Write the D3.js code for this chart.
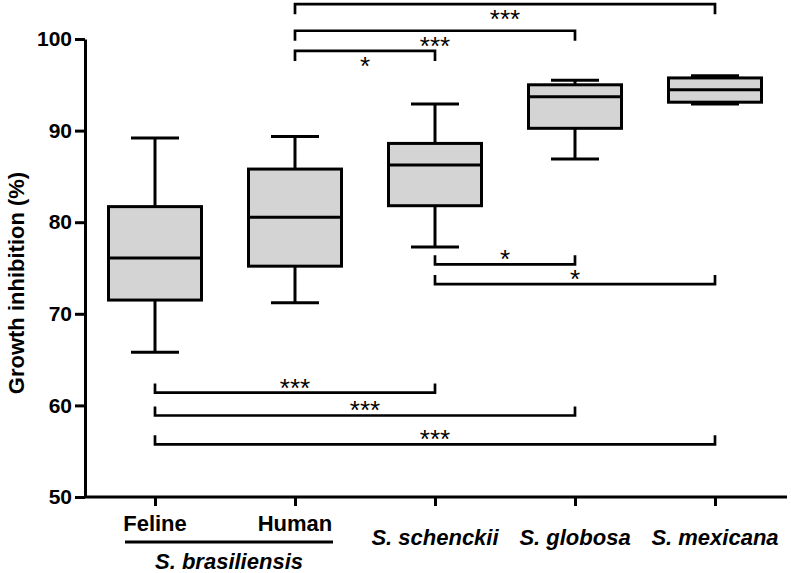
<!DOCTYPE html>
<html>
<head>
<meta charset="utf-8">
<script src="https://cdn.jsdelivr.net/npm/d3@7"></script>
<style>
  body { margin: 0; background: #fff; }
  svg { font-family: "Liberation Sans", Arial, sans-serif; }
  .axis text { font-size: 21px; font-weight: bold; fill: #000; }
  .axis path, .axis line { stroke: #000; stroke-width: 3px; }
</style>
</head>
<body>
<svg width="791" height="573"></svg>
<script>
// DATA
const groups = ["Feline", "Human", "S. schenckii", "S. globosa", "S. mexicana"];
const whiskerLow  = [65.8, 71.2, 77.3, 86.9, 92.9];
const q1          = [71.5, 75.2, 81.8, 90.25, 93.1];
const medians     = [76.1, 80.55, 86.25, 93.7, 94.45];
const q3          = [81.7, 85.8, 88.6, 95.0, 95.75];
const whiskerHigh = [89.2, 89.35, 92.9, 95.5, 96.0];
const yTicks = [50, 60, 70, 80, 90, 100];

// significance comparisons: [from, to, stars, level (y value), side]
const comparisons = [
	["Human", "S. mexicana", "***", 103.8, "top"],
	["Human", "S. globosa", "***", 100.9, "top"],
	["Human", "S. schenckii", "*", 98.7, "top"],
	["S. schenckii", "S. globosa", "*", 75.4, "bottom"],
	["S. schenckii", "S. mexicana", "*", 73.25, "bottom"],
	["Feline", "S. schenckii", "***", 61.4, "bottom"],
	["Feline", "S. globosa", "***", 58.9, "bottom"],
	["Feline", "S. mexicana", "***", 55.75, "bottom"]
];

var svg = d3.select('svg');

var x = d3.scalePoint().domain(groups).range([85, 785]).padding(0.5);
var y = d3.scaleLinear().domain([50, 100]).range([497, 39]);

var boxW = 93, capW = 48;

var boxes = groups.map((g, i) => ({
	name: g,
	lo: whiskerLow[i], q1: q1[i], med: medians[i], q3: q3[i], hi: whiskerHigh[i]
}));

// BOXES
var box = svg.append('g').selectAll('g').data(boxes).enter().append('g')
	.attr('transform', d => `translate(${x(d.name)},0)`);

box.append('line')
	.attr('y1', d => y(d.lo)).attr('y2', d => y(d.hi))
	.attr('stroke', '#000').attr('stroke-width', 3);

box.selectAll('.cap').data(d => [d.lo, d.hi]).enter().append('line')
	.attr('x1', -capW / 2).attr('x2', capW / 2)
	.attr('y1', v => y(v)).attr('y2', v => y(v))
	.attr('stroke', '#000').attr('stroke-width', 3);

box.append('rect')
	.attr('x', -boxW / 2).attr('width', boxW)
	.attr('y', d => y(d.q3)).attr('height', d => y(d.q1) - y(d.q3))
	.attr('fill', '#d4d4d4').attr('stroke', '#000').attr('stroke-width', 3);

box.append('line')
	.attr('x1', -boxW / 2).attr('x2', boxW / 2)
	.attr('y1', d => y(d.med)).attr('y2', d => y(d.med))
	.attr('stroke', '#000').attr('stroke-width', 3);

// AXES
svg.append('g').attr('class', 'axis')
	.attr('transform', 'translate(85,0)')
	.call(d3.axisLeft(y).tickValues(yTicks).tickSize(10).tickSizeOuter(0).tickPadding(3));

var xAxis = svg.append('g').attr('class', 'axis')
	.attr('transform', `translate(0,${y(50)})`)
	.call(d3.axisBottom(x).tickSize(9).tickSizeOuter(0).tickFormat(''));
xAxis.select('.domain').attr('d', 'M84,0H787');

// x labels
var labels = svg.append('g').attr('font-size', 22).attr('font-weight', 'bold').attr('text-anchor', 'middle');
groups.forEach((g, i) => {
	let italic = i >= 2;
	labels.append('text')
		.attr('x', x(g))
		.attr('y', italic ? 545 : 531)
		.attr('font-style', italic ? 'italic' : 'normal')
		.text(g);
});
svg.append('line')
	.attr('x1', 125).attr('x2', 333).attr('y1', 542).attr('y2', 542)
	.attr('stroke', '#000').attr('stroke-width', 3);
labels.append('text')
	.attr('x', (x('Feline') + x('Human')) / 2 + 4)
	.attr('y', 569)
	.attr('font-style', 'italic')
	.text('S. brasiliensis');

// y label
svg.append('text')
	.attr('transform', 'translate(24,283) rotate(-90)')
	.attr('text-anchor', 'middle')
	.attr('font-size', 22).attr('font-weight', 'bold')
	.text('Growth inhibition (%)');

// SIGNIFICANCE BRACKETS
var br = svg.append('g').selectAll('g').data(comparisons).enter().append('g');

br.append('path')
	.attr('d', d => {
		let x1 = x(d[0]), x2 = x(d[1]), ly = y(d[3]);
		let t = d[4] === 'top' ? 10 : -9;
		return `M${x1},${ly + t}V${ly}H${x2}V${ly + t}`;
	})
	.attr('fill', 'none').attr('stroke', '#000').attr('stroke-width', 2.7);

br.append('text')
	.attr('x', d => (x(d[0]) + x(d[1])) / 2)
	.attr('y', d => y(d[3]) + (d[4] === 'top' ? 24 : 4))
	.attr('text-anchor', 'middle')
	.attr('font-size', 26)
	.text(d => d[2]);
</script>
</body>
</html>
